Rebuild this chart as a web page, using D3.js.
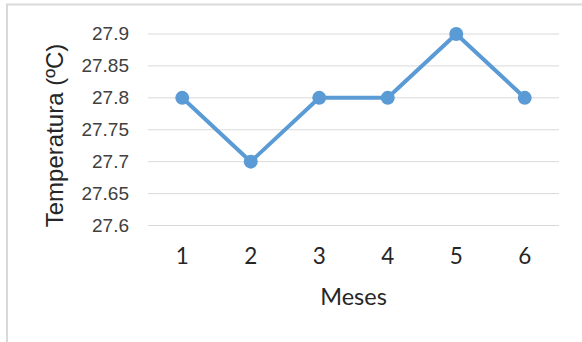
<!DOCTYPE html>
<html>
<head>
<meta charset="utf-8">
<script src="https://cdn.jsdelivr.net/npm/d3@7"></script>
<style>
  html, body { margin: 0; padding: 0; background: #fff; }
  svg { display: block; }
</style>
</head>
<body>
<svg id="chart" width="582" height="342"></svg>
<script>
// Monthly mean temperature
const months = ["1", "2", "3", "4", "5", "6"];
const temperatures = [27.8, 27.7, 27.8, 27.8, 27.9, 27.8];
const yTicks = [27.6, 27.65, 27.7, 27.75, 27.8, 27.85, 27.9];
const yTickLabels = ["27.6", "27.65", "27.7", "27.75", "27.8", "27.85", "27.9"];

const svg = d3.select("#chart");
const W = 582, H = 342;
const plot = { left: 148, right: 559, top: 34, bottom: 225.5 };

// Chart frame
svg.append("rect")
  .attr("x", 7).attr("y", 4.5)
  .attr("width", W + 10).attr("height", H + 10)
  .attr("fill", "#fff")
  .attr("stroke", "#d9d9d9").attr("stroke-width", 2);

const x = d3.scaleBand().domain(months).range([plot.left, plot.right]);
const y = d3.scaleLinear().domain([27.6, 27.9]).range([plot.bottom, plot.top]);

// Horizontal gridlines
svg.append("g")
  .selectAll("line")
  .data(yTicks)
  .join("line")
  .attr("x1", plot.left).attr("x2", plot.right)
  .attr("y1", d => y(d)).attr("y2", d => y(d))
  .attr("stroke", "#d9d9d9").attr("stroke-width", 1);

// Y axis labels
const yAxis = d3.axisLeft(y)
  .tickValues(yTicks)
  .tickFormat((d, i) => yTickLabels[i])
  .tickSize(0).tickPadding(0);
const gy = svg.append("g").attr("transform", `translate(${plot.left - 19},0)`).call(yAxis);
gy.select(".domain").remove();
gy.selectAll("text")
  .attr("font-family", "'Liberation Sans', Arial, sans-serif")
  .attr("font-size", 19).attr("fill", "#404040").attr("dy", "0.3em");

// X axis labels
const xAxis = d3.axisBottom(x).tickSize(0).tickPadding(0);
const gx = svg.append("g").attr("transform", `translate(0,264)`).call(xAxis);
gx.select(".domain").remove();
gx.selectAll("text")
  .attr("font-family", "Lato, 'Open Sans', sans-serif")
  .attr("font-size", 22.5).attr("fill", "#262626").attr("dy", "0");

// Axis titles
svg.append("text")
  .attr("x", (plot.left + plot.right) / 2).attr("y", 305)
  .attr("text-anchor", "middle")
  .attr("font-family", "Lato, 'Open Sans', sans-serif")
  .attr("font-size", 23.5).attr("fill", "#262626")
  .text("Meses");

svg.append("text")
  .attr("transform", "translate(63,135.5) rotate(-90)")
  .attr("text-anchor", "middle")
  .attr("font-family", "'Liberation Sans', Arial, sans-serif")
  .attr("font-size", 24).attr("fill", "#262626")
  .text("Temperatura (ºC)");

// Series line and markers
const cx = d => x(d) + x.bandwidth() / 2;
const line = d3.line()
  .x((d, i) => cx(months[i]))
  .y(d => y(d));

svg.append("path")
  .datum(temperatures)
  .attr("d", line)
  .attr("fill", "none")
  .attr("stroke", "#5b9bd5").attr("stroke-width", 4)
  .attr("stroke-linejoin", "round");

svg.append("g")
  .selectAll("circle")
  .data(temperatures)
  .join("circle")
  .attr("cx", (d, i) => cx(months[i]))
  .attr("cy", d => y(d))
  .attr("r", 7)
  .attr("fill", "#5b9bd5");
</script>
</body>
</html>
